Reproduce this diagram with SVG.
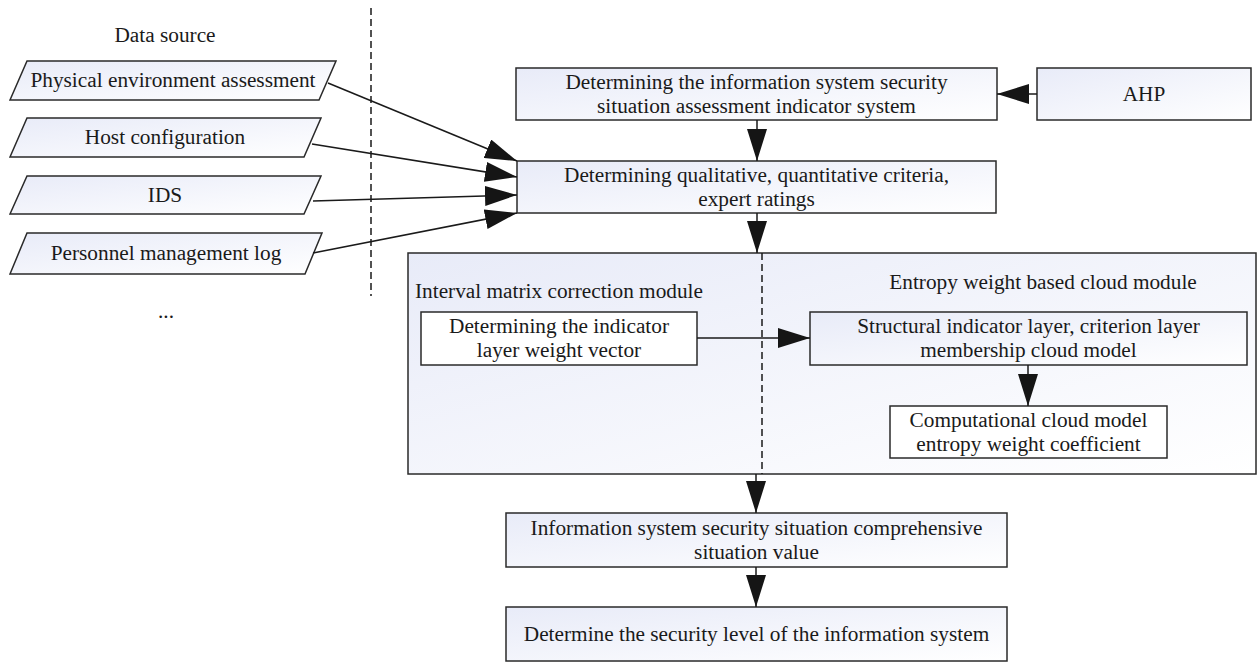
<svg xmlns="http://www.w3.org/2000/svg" width="1257" height="663" viewBox="0 0 1257 663">
<style>
text{font-family:"Liberation Serif","Times New Roman",serif;font-size:21.3px;fill:#1a1a1a}
.c{text-anchor:middle}
.box{fill:url(#g);stroke:#2a2a2a;stroke-width:1.5}
.wbox{fill:#ffffff;stroke:#2a2a2a;stroke-width:1.5}
.ln{fill:none;stroke:#1a1a1a;stroke-width:1.5}
.dash{fill:none;stroke:#1a1a1a;stroke-width:1.5;stroke-dasharray:7 4}
</style>
<defs>
<linearGradient id="g" x1="0" y1="0" x2="1" y2="1">
<stop offset="0" stop-color="#e8ebf8"/>
<stop offset="1" stop-color="#ffffff"/>
</linearGradient>
<marker id="ah" markerUnits="userSpaceOnUse" markerWidth="32" markerHeight="20" refX="32" refY="10" orient="auto" viewBox="0 0 32 20">
<path d="M0,0 L32,10 L0,20 z" fill="#151515"/>
</marker>
</defs>
<rect width="1257" height="663" fill="#ffffff"/>

<g id="data-source">
<text class="c" x="165" y="42">Data source</text>
</g>
<g id="physical">
<polygon class="box" points="10,100 27,61 336,61 319,100"/>
<text class="c" x="173" y="87">Physical environment assessment</text>
</g>
<g id="host">
<polygon class="box" points="10,157 27,118 321,118 304,157"/>
<text class="c" x="165" y="144">Host configuration</text>
</g>
<g id="ids">
<polygon class="box" points="10,214 27,176 321,176 304,214"/>
<text class="c" x="165" y="202">IDS</text>
</g>
<g id="personnel">
<polygon class="box" points="10,274 27,233 322,233 305,274"/>
<text class="c" x="166" y="260">Personnel management log</text>
</g>
<g id="ellipsis">
<text class="c" x="166" y="318">...</text>
</g>

<g id="indicator-system">
<rect class="box" x="516" y="68" width="481" height="52"/>
<text class="c" x="756.5" y="89">Determining the information system security</text>
<text class="c" x="756.5" y="113">situation assessment indicator system</text>
</g>
<g id="ahp">
<rect class="box" x="1037" y="68" width="214" height="52"/>
<text class="c" x="1144" y="101">AHP</text>
</g>
<g id="criteria">
<rect class="box" x="517" y="161" width="479" height="52"/>
<text class="c" x="756.5" y="182">Determining qualitative, quantitative criteria,</text>
<text class="c" x="756.5" y="206">expert ratings</text>
</g>

<g id="module-container">
<rect class="box" x="408" y="253" width="848" height="221"/>
<text x="415" y="298">Interval matrix correction module</text>
<text class="c" x="1043" y="289">Entropy weight based cloud module</text>
</g>
<g id="weight-vector">
<rect class="wbox" x="421" y="312" width="276" height="53"/>
<text class="c" x="559" y="333">Determining the indicator</text>
<text class="c" x="559" y="357">layer weight vector</text>
</g>
<g id="structural">
<rect class="box" x="810" y="312" width="437" height="53"/>
<text class="c" x="1028.5" y="333">Structural indicator layer, criterion layer</text>
<text class="c" x="1028.5" y="357">membership cloud model</text>
</g>
<g id="computational">
<rect class="wbox" x="890" y="406" width="277" height="52"/>
<text class="c" x="1028.5" y="427">Computational cloud model</text>
<text class="c" x="1028.5" y="451">entropy weight coefficient</text>
</g>

<g id="situation-value">
<rect class="box" x="506" y="513" width="501" height="54"/>
<text class="c" x="756.5" y="535">Information system security situation comprehensive</text>
<text class="c" x="756.5" y="559">situation value</text>
</g>
<g id="security-level">
<rect class="box" x="506" y="607" width="501" height="54"/>
<text class="c" x="756.5" y="641">Determine the security level of the information system</text>
</g>

<g id="connectors">
<line class="dash" x1="371" y1="8" x2="371" y2="296"/>
<line class="dash" x1="762" y1="253" x2="762" y2="474"/>
<line class="ln" x1="328" y1="83" x2="517" y2="161" marker-end="url(#ah)"/>
<line class="ln" x1="312" y1="144" x2="517" y2="177" marker-end="url(#ah)"/>
<line class="ln" x1="313" y1="201" x2="517" y2="195" marker-end="url(#ah)"/>
<line class="ln" x1="313" y1="253" x2="517" y2="213" marker-end="url(#ah)"/>
<line class="ln" x1="1037" y1="94" x2="997" y2="94" marker-end="url(#ah)"/>
<line class="ln" x1="757" y1="120" x2="757" y2="161" marker-end="url(#ah)"/>
<line class="ln" x1="757" y1="213" x2="757" y2="253" marker-end="url(#ah)"/>
<line class="ln" x1="697" y1="338" x2="810" y2="338" marker-end="url(#ah)"/>
<line class="ln" x1="1028" y1="365" x2="1028" y2="406" marker-end="url(#ah)"/>
<line class="ln" x1="756" y1="474" x2="756" y2="513" marker-end="url(#ah)"/>
<line class="ln" x1="756" y1="567" x2="756" y2="607" marker-end="url(#ah)"/>
</g>
</svg>
